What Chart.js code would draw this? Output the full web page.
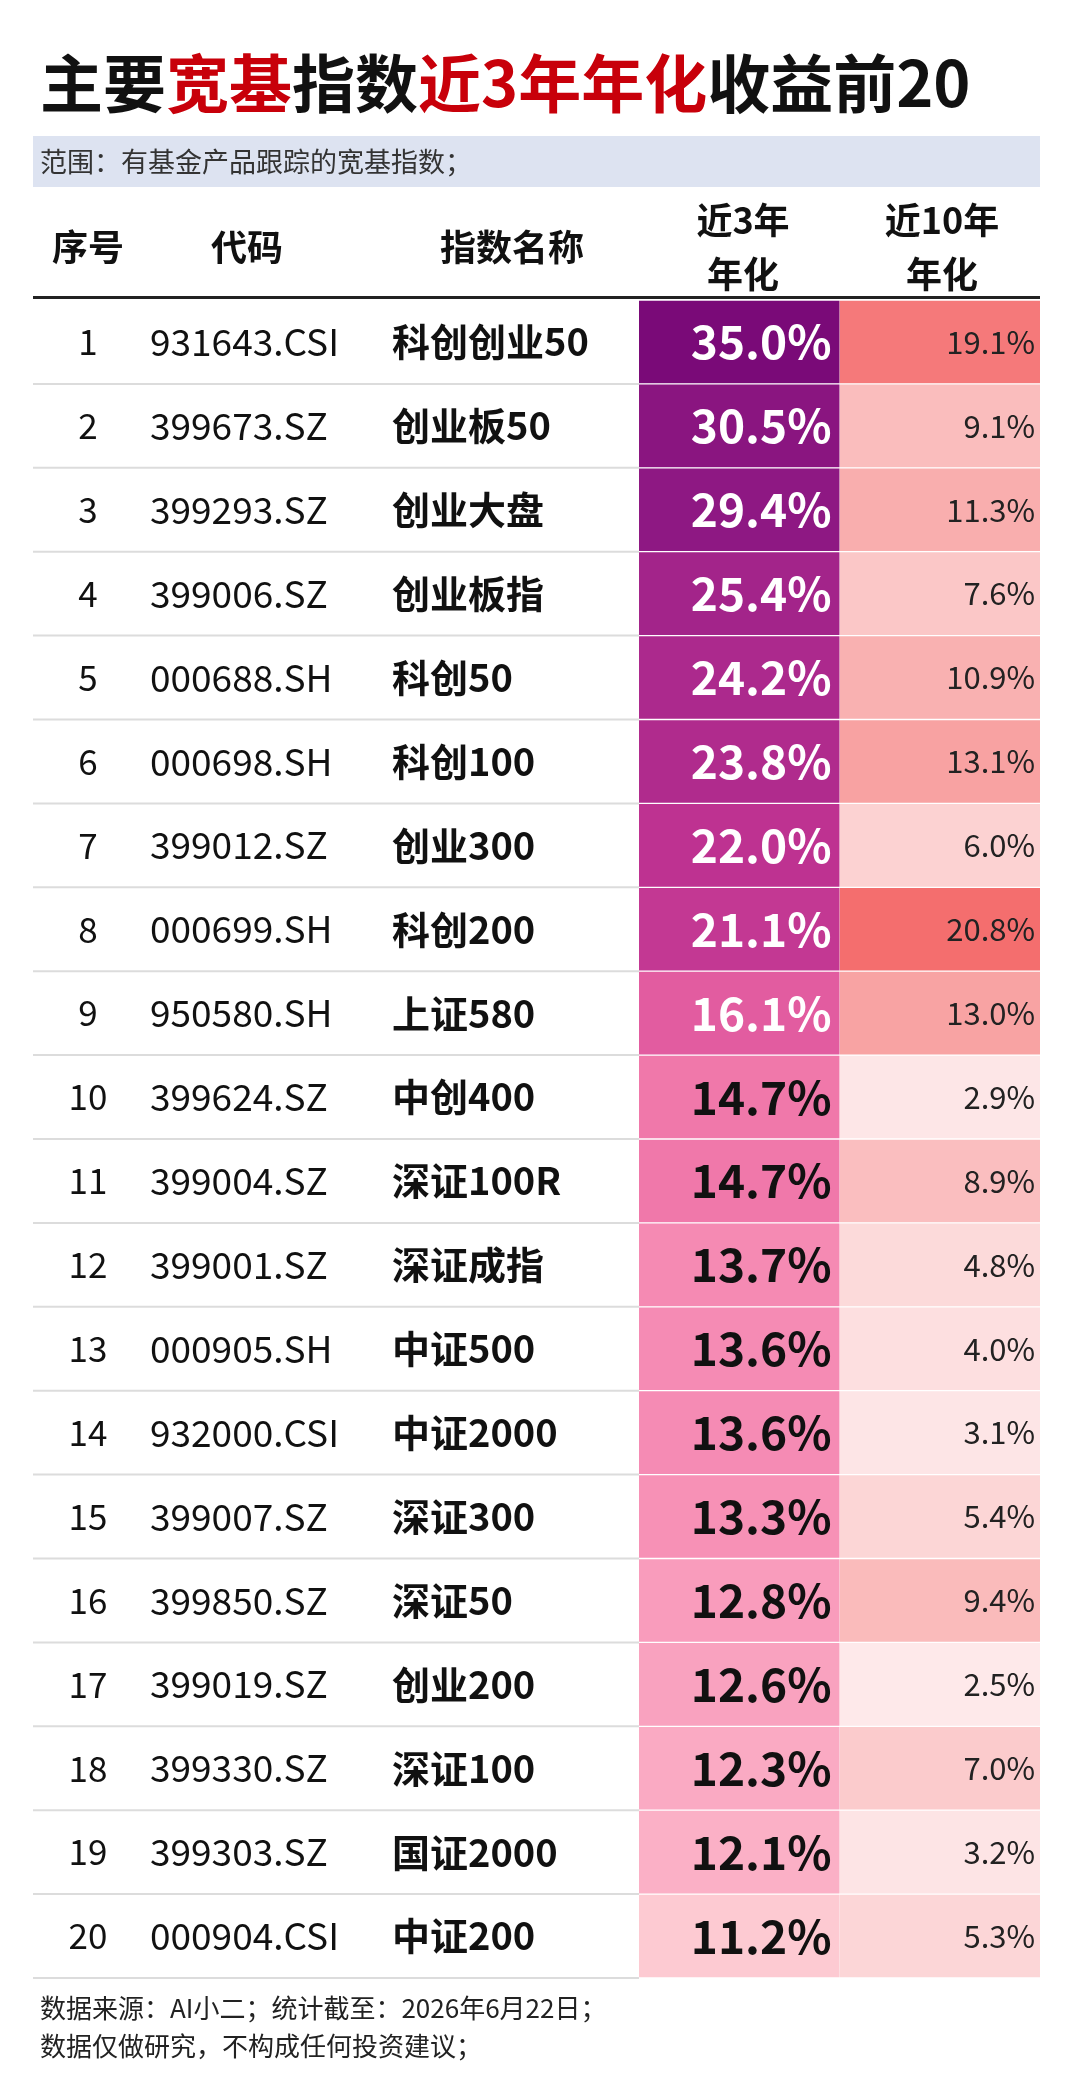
<!DOCTYPE html>
<html><head><meta charset="utf-8">
<script src="https://cdn.jsdelivr.net/npm/chart.js@4"></script>
<style>html,body{margin:0;padding:0;background:#fff}#w{width:1080px;height:2096px}</style>
</head><body><div id="w"><canvas id="c"></canvas></div>
<script>
const seqs = ['1','2','3','4','5','6','7','8','9','10','11','12','13','14','15','16','17','18','19','20'];
const codes = ['931643.CSI','399673.SZ','399293.SZ','399006.SZ','000688.SH','000698.SH','399012.SZ','000699.SH','950580.SH','399624.SZ','399004.SZ','399001.SZ','000905.SH','932000.CSI','399007.SZ','399850.SZ','399019.SZ','399330.SZ','399303.SZ','000904.CSI'];
const names = ['科创创业50','创业板50','创业大盘','创业板指','科创50','科创100','创业300','科创200','上证580','中创400','深证100R','深证成指','中证500','中证2000','深证300','深证50','创业200','深证100','国证2000','中证200'];
const ret3y = [35.0,30.5,29.4,25.4,24.2,23.8,22.0,21.1,16.1,14.7,14.7,13.7,13.6,13.6,13.3,12.8,12.6,12.3,12.1,11.2];
const ret10y = [19.1,9.1,11.3,7.6,10.9,13.1,6.0,20.8,13.0,2.9,8.9,4.8,4.0,3.1,5.4,9.4,2.5,7.0,3.2,5.3];
const headers = [['序号'],['代码'],['指数名称'],['近3年','年化'],['近10年','年化']];
const titleParts = [['主要','#111'],['宽基','#c8000a'],['指数','#111'],['近3年年化','#c8000a'],['收益前20','#111']];

function lerp(a,b,t){return a.map((v,i)=>Math.round(v+(b[i]-v)*t));}
function scale3(v){
  const stops=[[11.2,[253,202,210]],[13.0,[248,150,185]],[14.7,[240,120,170]],[16.1,[226,92,160]],[22,[190,50,145]],[27,[150,30,135]],[35,[122,10,120]]];
  for(let i=0;i<stops.length-1;i++){const [a,ca]=stops[i],[b,cb]=stops[i+1];
    if(v<=b){const c=lerp(ca,cb,Math.max(0,(v-a)/(b-a)));return `rgb(${c})`;}}
  return 'rgb(122,10,120)';
}
function scale10(v){const c=lerp([255,250,251],[244,110,110],v/20.8);return `rgb(${c})`;}

const L=33,R=1040;
const tablePlugin={id:'tbl',
 beforeDatasetsDraw(ch){const g=ch.ctx,y=ch.scales.y,ca=ch.chartArea;g.save();
  g.font='bold 63px "Noto Sans CJK SC"';g.textBaseline='middle';g.textAlign='left';
  let x=40;titleParts.forEach(([t,c])=>{g.fillStyle=c;g.fillText(t,x,83);x+=g.measureText(t).width;});
  g.fillStyle='#dde3f1';g.fillRect(L,136,R-L,51);
  g.fillStyle='#333';g.font='27px "Noto Sans CJK SC"';g.fillText('范围：有基金产品跟踪的宽基指数；',40,162);
  const hx=[88,247,512,743,942];g.fillStyle='#111';g.font='bold 36px "Noto Sans CJK SC"';g.textAlign='center';
  headers.forEach((h,i)=>{if(h.length===1)g.fillText(h[0],hx[i],247);else{g.fillText(h[0],hx[i],220);g.fillText(h[1],hx[i],274);}});
  g.fillStyle='#222';g.fillRect(L,296,R-L,3);
  g.strokeStyle='#dcdcdc';g.lineWidth=2;
  seqs.forEach((s,i)=>{const yb=y.getPixelForValue(i)+(y.getPixelForValue(1)-y.getPixelForValue(0))/2;
    g.beginPath();g.moveTo(L,yb);g.lineTo(ca.left,yb);g.stroke();});
  g.restore();},
 afterDatasetsDraw(ch){const g=ch.ctx,y=ch.scales.y,xs=ch.scales.x;g.save();g.textBaseline='middle';
  seqs.forEach((s,i)=>{const yc=y.getPixelForValue(i);
    g.fillStyle='#111';g.textAlign='center';g.font='35px "Noto Sans CJK SC"';g.fillText(s,88,yc);
    g.textAlign='left';g.font='37px "Noto Sans CJK SC"';g.fillText(codes[i],150,yc);
    g.font='bold 38px "Noto Sans CJK SC"';g.fillText(names[i],392,yc);
    g.textAlign='right';g.font='bold 46px "Noto Sans CJK SC"';g.fillStyle=ret3y[i]>15?'#fff':'#111';
    g.fillText(ret3y[i].toFixed(1)+'%',xs.getPixelForValue(1)-8,yc);
    g.font='31px "Noto Sans CJK SC"';g.fillStyle='#222';
    g.fillText(ret10y[i].toFixed(1)+'%',xs.getPixelForValue(2)-5,yc);});
  g.fillStyle='#222';g.textAlign='left';g.font='26px "Noto Sans CJK SC"';
  g.fillText('数据来源：AI小二；统计截至：2026年6月22日；',40,2008);
  g.fillText('数据仅做研究，不构成任何投资建议；',40,2046);
  g.restore();}
};

new Chart(document.getElementById('c'),{type:'bar',
 data:{labels:seqs,datasets:[
  {data:ret3y.map(()=>[0,1]),backgroundColor:ret3y.map(scale3),borderColor:'rgba(255,255,255,0.5)',borderWidth:{top:1,bottom:1},grouped:false,barPercentage:1,categoryPercentage:1},
  {data:ret10y.map(()=>[1,2]),backgroundColor:ret10y.map(scale10),borderColor:'rgba(255,255,255,0.5)',borderWidth:{top:1,bottom:1},grouped:false,barPercentage:1,categoryPercentage:1}]},
 options:{indexAxis:'y',responsive:true,maintainAspectRatio:false,animation:false,
  layout:{padding:{left:639,right:40,top:300,bottom:118}},
  plugins:{legend:{display:false},tooltip:{enabled:false}},
  scales:{x:{type:'linear',min:0,max:2,display:false},y:{display:false,grid:{display:false}}}},
 plugins:[tablePlugin]});
</script></body></html>
